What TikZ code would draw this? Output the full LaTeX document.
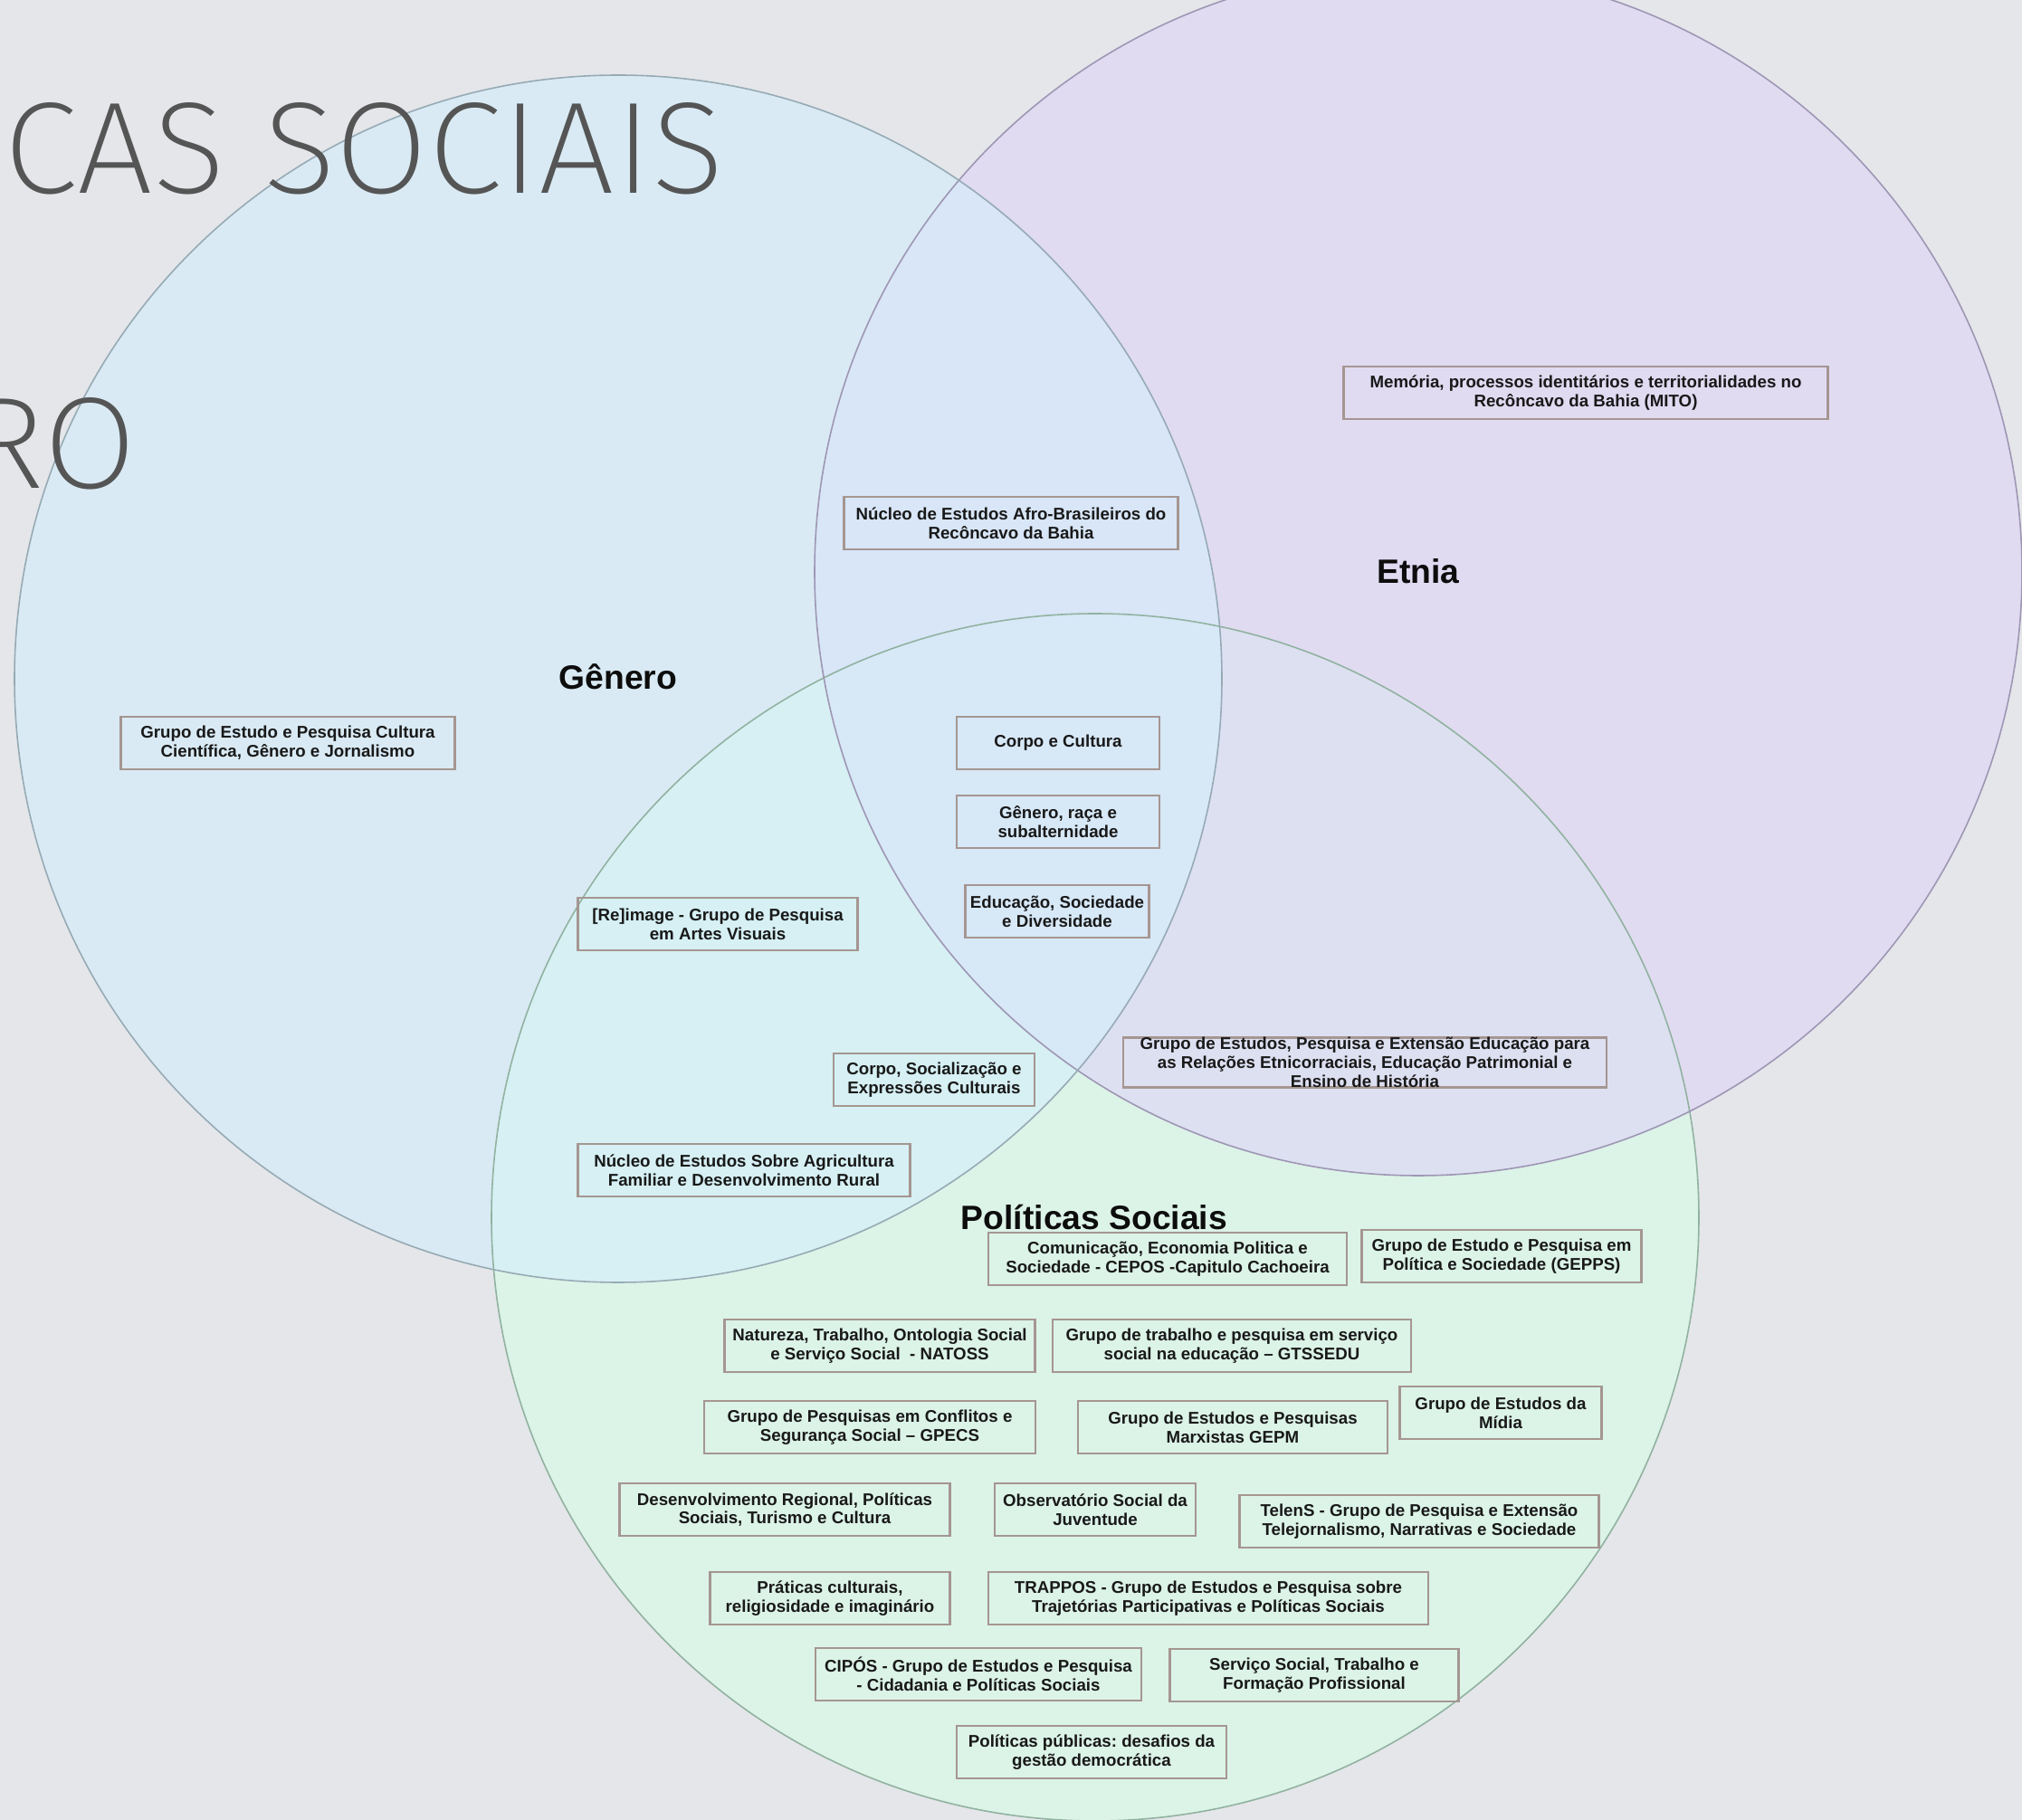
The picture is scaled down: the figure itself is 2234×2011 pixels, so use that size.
\documentclass[tikz,border=0pt]{standalone}
\usepackage{fontspec}
\setmainfont{Liberation Sans}
\IfFontExistsTF{Fira Sans ExtraLight}{\newfontfamily\titlefont{Fira Sans ExtraLight}}{%
  \IfFontExistsTF{Fira Sans Light}{\newfontfamily\titlefont{Fira Sans Light}}{\newfontfamily\titlefont{Fira Sans}}}
\usepackage{tikz}
\frenchspacing

\definecolor{bgcol}{RGB}{228,230,234}
\definecolor{fillgenero}{RGB}{211,238,252}
\definecolor{filletnia}{RGB}{222,212,247}
\definecolor{fillpol}{RGB}{216,252,231}
\definecolor{linegenero}{RGB}{150,170,180}
\definecolor{lineetnia}{RGB}{158,150,180}
\definecolor{linepol}{RGB}{145,178,160}
\definecolor{boxline}{RGB}{165,150,145}
\definecolor{titlegray}{RGB}{85,85,85}

\begin{document}
\begin{tikzpicture}[x=0.1mm,y=-0.1mm,
  grp/.style={draw=boxline,line width=0.7pt,inner xsep=1pt,inner ysep=0pt,
    minimum height=5.8mm,align=center,text=black!90,
    font=\fontsize{5.32}{5.9}\selectfont\bfseries},
  setlabel/.style={anchor=base,text=black!95,font=\fontsize{10.6}{12}\selectfont\bfseries},
  bigtitle/.style={inner sep=0pt,text=titlegray,font=\titlefont\fontsize{41}{41}\selectfont}]
 \pgfmathsetmacro{\rad}{667}
\useasboundingbox (0,0) rectangle (2234,2011);
\fill[bgcol] (0,0) rectangle (2234,2011);
\clip (0,0) rectangle (2234,2011);

  \foreach \c/\x/\y in {pol/1210/1345,etnia/1567/632,genero/683/750}{
   \fill[fill=fill\c,fill opacity=0.6] (\x,\y) circle[radius=\rad];
}
  \foreach \c/\x/\y in {pol/1210/1345,etnia/1567/632,genero/683/750}{
   \draw[draw=line\c,line width=0.45pt] (\x,\y) circle[radius=\rad];
}

\node[bigtitle,anchor=base west] (tsociais) at (4,214) {\scalebox{1.03}[1]{CAS SOCIAIS}};
\node[bigtitle,anchor=base east] (tgenero) at (152,540) {\scalebox{1.03}[1]{RO}};

\node[setlabel] (lgenero) at (683,762) {Gênero};
\node[setlabel] (letnia) at (1567,645) {Etnia};
\node[setlabel] (lpol) at (1209,1359) {Políticas Sociais};

%% Genero / Etnia
\node[grp,minimum width=53.5mm] (mito) at (1752,434) {Memória, processos identitários e territorialidades no\\Recôncavo da Bahia (MITO)};
\node[grp,minimum width=36.9mm] (afro) at (1117,578) {Núcleo de Estudos Afro-Brasileiros do\\Recôncavo da Bahia};
\node[grp,minimum width=36.9mm] (cultcient) at (318,821) {Grupo de Estudo e Pesquisa Cultura\\Científica, Gênero e Jornalismo};
\node[grp,minimum width=22.4mm] (corpo) at (1169,821) {Corpo e Cultura};
\node[grp,minimum width=22.4mm] (raca) at (1169,908) {Gênero, raça e\\subalternidade};
\node[grp,minimum width=20.3mm] (educ) at (1168,1007) {Educação, Sociedade\\e Diversidade};
\node[grp,minimum width=30.9mm] (reimage) at (793,1021) {[Re]image - Grupo de Pesquisa\\em Artes Visuais};
\node[grp,minimum width=22.2mm] (socializ) at (1032,1193) {Corpo, Socialização e\\Expressões Culturais};
\node[grp,minimum width=36.7mm] (agric) at (822,1293) {Núcleo de Estudos Sobre Agricultura\\Familiar e Desenvolvimento Rural};
\node[grp,minimum width=53.4mm,minimum height=0pt] (etnicorr) at (1508,1174) {Grupo de Estudos, Pesquisa e Extensão Educação para\\as Relações Etnicorraciais, Educação Patrimonial e\\Ensino de História};

%% Politicas Sociais
\node[grp,minimum width=39.6mm] (cepos) at (1290,1391) {Comunicação, Economia Politica e\\Sociedade - CEPOS -Capitulo Cachoeira};
\node[grp,minimum width=30.9mm] (gepps) at (1659,1388) {Grupo de Estudo e Pesquisa em\\Política e Sociedade (GEPPS)};
\node[grp,minimum width=34.3mm] (natoss) at (972,1487) {Natureza, Trabalho, Ontologia Social\\e Serviço Social\ \ - NATOSS};
\node[grp,minimum width=39.6mm] (gtssedu) at (1361,1487) {Grupo de trabalho e pesquisa em serviço\\social na educação – GTSSEDU};
\node[grp,minimum width=36.6mm] (gpecs) at (961,1577) {Grupo de Pesquisas em Conflitos e\\Segurança Social – GPECS};
\node[grp,minimum width=34.2mm] (gepm) at (1362,1577) {Grupo de Estudos e Pesquisas\\Marxistas GEPM};
\node[grp,minimum width=22.3mm] (midia) at (1658,1561) {Grupo de Estudos da\\Mídia};
\node[grp,minimum width=36.5mm] (desenv) at (867,1668) {Desenvolvimento Regional, Políticas\\Sociais, Turismo e Cultura};
\node[grp,minimum width=22.2mm] (juvent) at (1210,1668) {Observatório Social da\\Juventude};
\node[grp,minimum width=39.7mm] (telens) at (1568,1681) {TelenS - Grupo de Pesquisa e Extensão\\Telejornalismo, Narrativas e Sociedade};
\node[grp,minimum width=26.5mm] (praticas) at (917,1766) {Práticas culturais,\\religiosidade e imaginário};
\node[grp,minimum width=48.6mm] (trappos) at (1335,1766) {TRAPPOS - Grupo de Estudos e Pesquisa sobre\\Trajetórias Participativas e Políticas Sociais};
\node[grp,minimum width=36.0mm] (cipos) at (1081,1850) {CIPÓS - Grupo de Estudos e Pesquisa\\- Cidadania e Políticas Sociais};
\node[grp,minimum width=31.9mm] (servico) at (1452,1851) {Serviço Social, Trabalho e\\Formação Profissional};
\node[grp,minimum width=29.8mm] (publicas) at (1206,1936) {Políticas públicas: desafios da\\gestão democrática};

\end{tikzpicture}
\end{document}
